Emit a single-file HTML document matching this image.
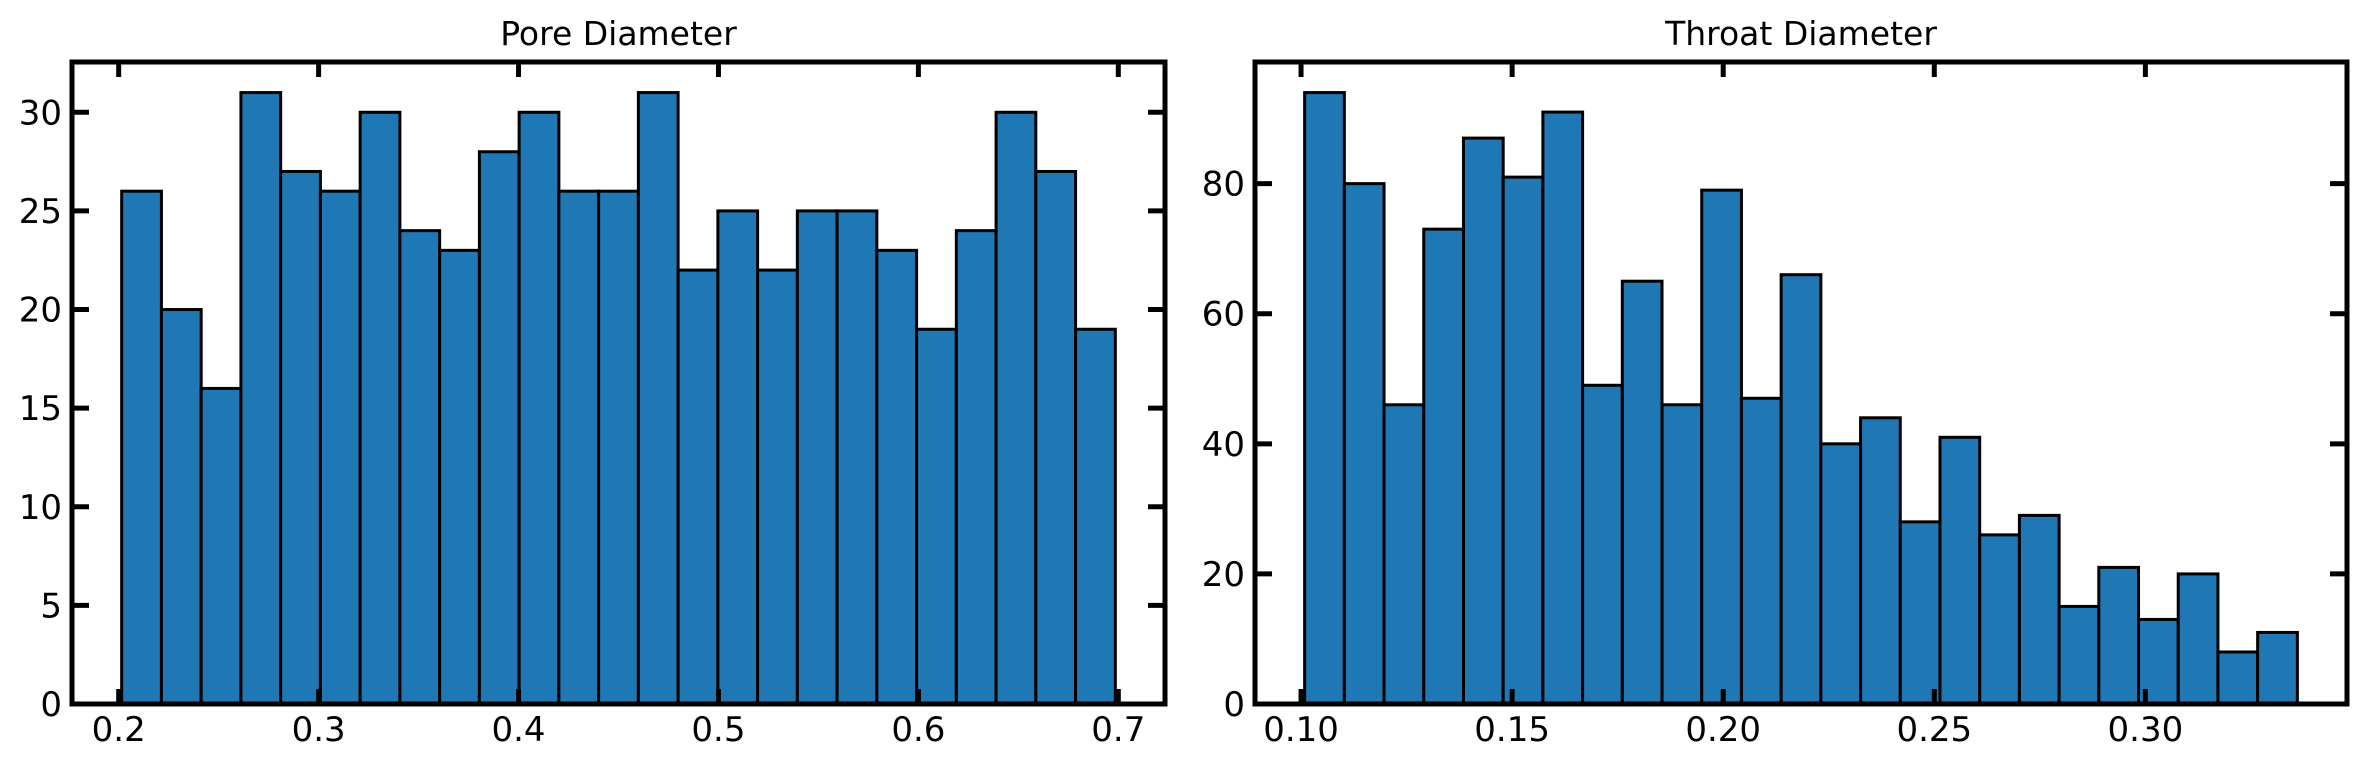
<!DOCTYPE html>
<html><head><meta charset="utf-8"><style>
html,body{margin:0;padding:0;background:#fff;}
svg{display:block;font-family:"DejaVu Sans","Liberation Sans",sans-serif;}
</style></head><body>
<svg id="fig" width="2368" height="767" viewBox="0 0 2368 767" xmlns="http://www.w3.org/2000/svg"></svg>
<script>
// Pore diameter histogram data
const poreCounts = [26,20,16,31,27,26,30,24,23,28,30,26,26,31,22,25,22,25,25,23,19,24,30,27,19];
const poreRange = [0.2015, 0.6985];
const poreXTicks = [0.2,0.3,0.4,0.5,0.6,0.7];
const poreXLabels = ["0.2","0.3","0.4","0.5","0.6","0.7"];
const poreYTicks = [0,5,10,15,20,25,30];
// Throat diameter histogram data
const throatCounts = [94,80,46,73,87,81,91,49,65,46,79,47,66,40,44,28,41,26,29,15,21,13,20,8,11];
const throatRange = [0.10085, 0.3360];
const throatXTicks = [0.10,0.15,0.20,0.25,0.30];
const throatXLabels = ["0.10","0.15","0.20","0.25","0.30"];
const throatYTicks = [0,20,40,60,80];

const NS = "http://www.w3.org/2000/svg";
const svg = document.getElementById('fig');
function mk(tag, attrs, parent){
  const e = document.createElementNS(NS, tag);
  for (const k in attrs) e.setAttribute(k, attrs[k]);
  (parent||svg).appendChild(e);
  return e;
}
function drawPanel(cfg){
  const {L,R,T,B,title,counts,range,xticks,xlabels,yticks,key} = cfg;
  const g = mk('g', {});
  
  
  const span = range[1]-range[0];
  const xmin = range[0]-0.05*span, xmax = range[1]+0.05*span;
  const ymax = Math.max(...counts)*1.05;
  const xs = v => L + (v - xmin)/(xmax - xmin)*(R-L);
  const ys = v => B - v/ymax*(B-T);
  const n = counts.length, w = span/n;
  counts.forEach((c,i)=>{
    const x0 = xs(range[0]+i*w), x1 = xs(range[0]+(i+1)*w);
    const r = mk('rect', {x:x0, y:ys(c), width:x1-x0, height:B-ys(c), fill:'#1f77b4', stroke:'#000', 'stroke-width':3}, g);
    
    
  });
  xticks.forEach((t,i)=>{
    const x = xs(t);
    mk('line',{x1:x,x2:x,y1:B,y2:B-15,stroke:'#000','stroke-width':5},g);
    mk('line',{x1:x,x2:x,y1:T,y2:T+15,stroke:'#000','stroke-width':5},g);
    const tx = mk('text',{x:x,y:741,'text-anchor':'middle','font-size':34,fill:'#000'},g);
    tx.textContent = xlabels[i];
    
    
  });
  yticks.forEach(t=>{
    const y = ys(t);
    mk('line',{x1:L,x2:L+17,y1:y,y2:y,stroke:'#000','stroke-width':5},g);
    mk('line',{x1:R,x2:R-17,y1:y,y2:y,stroke:'#000','stroke-width':5},g);
    const ty = mk('text',{x:L-10,y:y+12,'text-anchor':'end','font-size':34,fill:'#000'},g);
    ty.textContent = String(t);
    
    
  });
  const frame = mk('rect',{x:L,y:T,width:R-L,height:B-T,fill:'none',stroke:'#000','stroke-width':5},g);
  
  
  const tt = mk('text',{x:(L+R)/2,y:45,'text-anchor':'middle','font-size':33,fill:'#000'},g);
  tt.textContent = title;
  
  
}
drawPanel({L:72,R:1165,T:62,B:704,title:'Pore Diameter',counts:poreCounts,range:poreRange,xticks:poreXTicks,xlabels:poreXLabels,yticks:poreYTicks,key:'pore'});
drawPanel({L:1255,R:2347,T:62,B:704,title:'Throat Diameter',counts:throatCounts,range:throatRange,xticks:throatXTicks,xlabels:throatXLabels,yticks:throatYTicks,key:'throat'});
</script>
</body></html>
